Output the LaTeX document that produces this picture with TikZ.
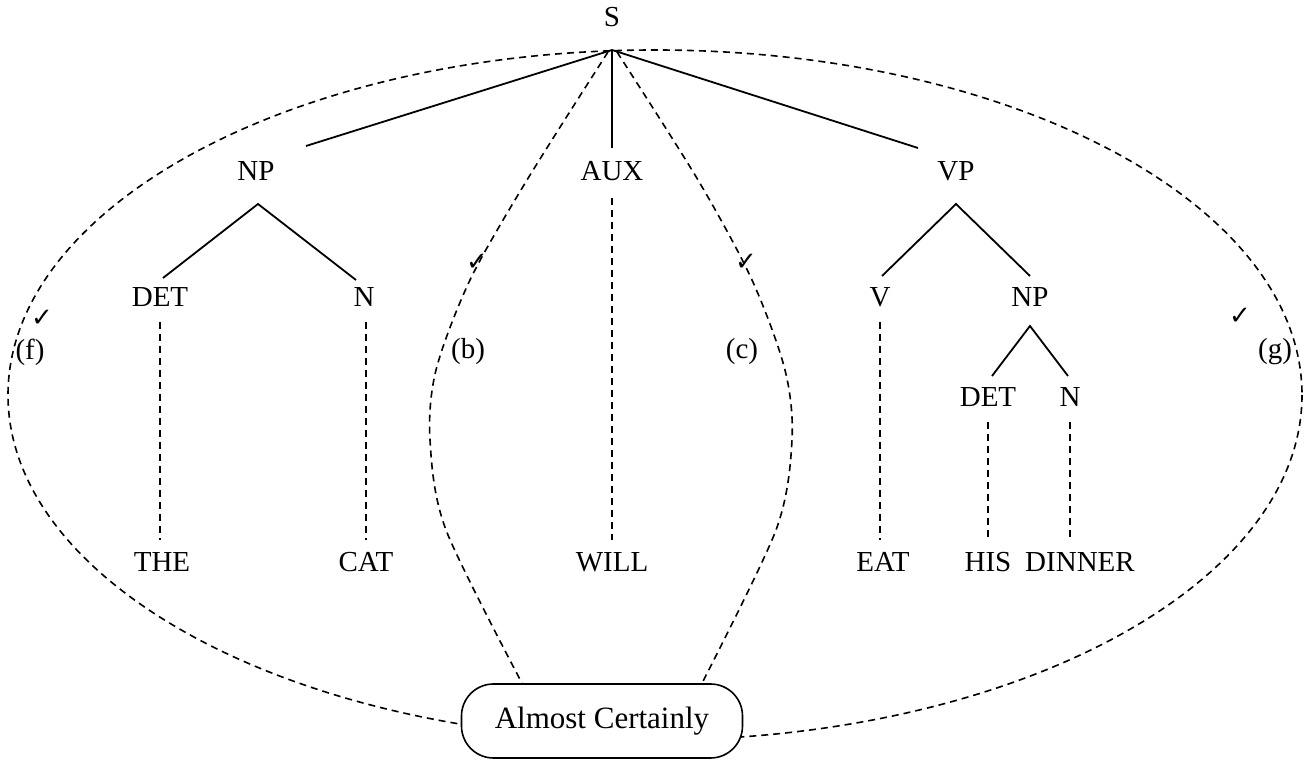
\documentclass[tikz,border=0pt]{standalone}
\usepackage{fontspec}
\setmainfont{Liberation Serif}
\newfontfamily\symfont{DejaVu Sans}
\usetikzlibrary{calc}
\begin{document}
\begin{tikzpicture}[x=0.5pt,y=-0.5pt,
  lbl/.style={inner sep=0pt, text height=0.66em, text depth=0pt,
              font=\fontsize{14.5}{17}\selectfont},
  tag/.style={inner sep=0pt, font=\fontsize{14.5}{17}\selectfont},
  tick/.style={inner sep=0pt, font=\symfont\fontsize{13}{14}\selectfont},
  branch/.style={line width=0.9pt},
  link/.style={line width=0.8pt, dash pattern=on 3.5pt off 2.5pt},
  scope/.style={line width=0.8pt, dash pattern=on 3.5pt off 2.5pt},
  verdict/.style={draw, line width=0.8pt, fill=white, rounded corners=16pt,
                  minimum width=140.5pt, minimum height=37pt, inner sep=0pt,
                  font=\fontsize{15.5}{18}\selectfont}]
\useasboundingbox (0,0) rectangle (1312,763);

% outer scope boundary
\draw[scope] (655,395) ellipse [x radius=647, y radius=345];

% sentence tree
\node[lbl] (S)    at (612,20)  {S};
\coordinate (apex) at (612,50);
\node[lbl] (NP)   at (256,174) {NP};
\node[lbl] (AUX)  at (612,174) {AUX};
\node[lbl] (VP)   at (956,174) {VP};
\node[lbl] (DET)  at (160,300) {DET};
\node[lbl] (N)    at (364,300) {N};
\node[lbl] (V)    at (880,300) {V};
\node[lbl] (NPb)  at (1030,300) {NP};
\node[lbl] (DETb) at (988,400) {DET};
\node[lbl] (Nb)   at (1070,400) {N};
\node[lbl] (THE)  at (162,565) {THE};
\node[lbl] (CAT)  at (366,565) {CAT};
\node[lbl] (WILL) at (612,565) {WILL};
\node[lbl] (EAT)  at (883,565) {EAT};
\node[lbl] (HIS)  at (988,565) {HIS};
\node[lbl] (DIN)  at (1080,565) {DINNER};

\draw[branch] (apex) -- ($(NP)+(50,-28)$);
\draw[branch] (apex) -- ($(AUX)+(0,-26)$);
\draw[branch] (apex) -- ($(VP)+(-38,-26)$);
\draw[branch] ($(DET)+(3,-22)$) -- ($(NP)+(2,30)$) -- ($(N)+(-8,-20)$);
\draw[branch] ($(V)+(2,-24)$) -- ($(VP)+(0,30)$) -- ($(NPb)+(0,-24)$);
\draw[branch] ($(DETb)+(4,-24)$) -- ($(NPb)+(0,26)$) -- ($(Nb)+(-2,-24)$);

\draw[link] ($(DET)+(0,22)$)  -- ($(THE)+(-2,-25)$);
\draw[link] ($(N)+(2,22)$)    -- ($(CAT)+(0,-25)$);
\draw[link] ($(AUX)+(0,24)$)  -- ($(WILL)+(0,-25)$);
\draw[link] ($(V)+(0,22)$)    -- ($(EAT)+(-3,-25)$);
\draw[link] ($(DETb)+(0,22)$) -- ($(HIS)+(0,-25)$);
\draw[link] ($(Nb)+(0,22)$)   -- ($(DIN)+(-10,-25)$);

% judgement box and its two inner scopes
\node[verdict] (AC) at (602,721) {Almost Certainly};
\coordinate (bEnd) at ($(AC.north)+(-80,0)$);
\coordinate (cEnd) at ($(AC.north)+(100,0)$);
\coordinate (bTop) at ($(apex)+(-4,2)$);
\coordinate (cTop) at ($(apex)+(5,2)$);
\draw[link] plot[smooth] coordinates {(bTop) (527,180) (470,280) (436,370) (430,440) (446,530) (bEnd)};
\draw[link] plot[smooth] coordinates {(cTop) (698,180) (752,280) (785,370) (792,440) (776,530) (cEnd)};

% scope labels and ticks
\node[tag] (f) at (30,352)   {(f)};
\node[tag] (b) at (468,352)  {(b)};
\node[tag] (c) at (742,352)  {(c)};
\node[tag] (g) at (1275,352) {(g)};
\node[tick] (tf) at (42,318)   {✓};
\node[tick] (tb) at (477,262)  {✓};
\node[tick] (tc) at (746,262)  {✓};
\node[tick] (tg) at (1240,316) {✓};
\end{tikzpicture}
\end{document}
